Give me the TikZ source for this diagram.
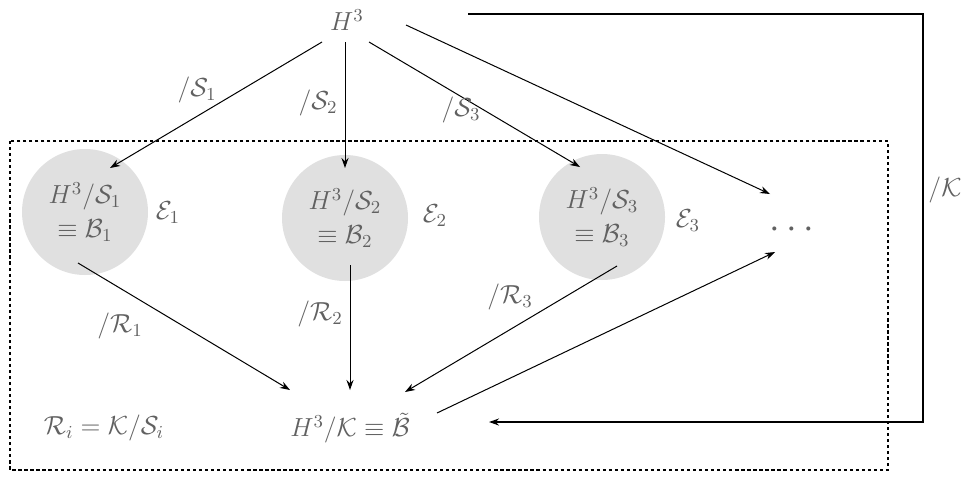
\RequirePackage{fix-cm}
\documentclass[tikz,border=0pt]{standalone}
\usepackage{amsmath}
\usepackage{tikz}
\usetikzlibrary{arrows.meta}

\definecolor{labelgray}{gray}{0.38}
\definecolor{ballgray}{gray}{0.88}

\tikzset{
	lbl/.style={text=labelgray, font=\fontsize{13}{15}\selectfont, inner sep=1pt},
	ball/.style={circle, fill=ballgray, minimum size=126*0.0175cm, inner sep=0pt, align=center, text=labelgray, font=\fontsize{13}{15}\selectfont},
	map/.style={-{Stealth[length=5pt,width=3.5pt]}, line width=0.5pt}
}

\begin{document}
\begin{tikzpicture}[x=0.0175cm, y=-0.0175cm]
		\useasboundingbox (0, 0) rectangle (968, 476);

		\draw[dash pattern=on 1.6pt off 1.4pt, line width=0.8pt] (10, 141) rectangle (888, 470);

		\node[lbl] (H) at (347, 20) {$H^3$};

		\node[ball] (B1) at (85, 212) {$H^3/\mathcal{S}_1$\\[2pt]$\equiv\mathcal{B}_1$};
		\node[ball] (B2) at (345, 218) {$H^3/\mathcal{S}_2$\\[2pt]$\equiv\mathcal{B}_2$};
		\node[ball] (B3) at (602, 217) {$H^3/\mathcal{S}_3$\\[2pt]$\equiv\mathcal{B}_3$};

		\node[lbl] (E1) at (168, 213) {$\mathcal{E}_1$};
		\node[lbl] (E2) at (435, 216) {$\mathcal{E}_2$};
		\node[lbl] (E3) at (688, 221) {$\mathcal{E}_3$};

		\node[lbl, font=\fontsize{19}{21}\selectfont] (D) at (795, 230) {$\cdots$};

		\node[lbl] (Q) at (350, 428) {$H^3/\mathcal{K}\equiv\tilde{\mathcal{B}}$};
		\node[lbl] (R) at (104, 428) {$\mathcal{R}_i=\mathcal{K}/\mathcal{S}_i$};

		\coordinate (A1) at (322, 42);
		\coordinate (A2) at (345, 42);
		\coordinate (A3) at (369, 42);
		\coordinate (A4) at (406, 25);

		\coordinate (C1) at (110, 168);
		\coordinate (C2) at (345, 168);
		\coordinate (C3) at (580, 167);
		\coordinate (C4) at (770, 194);

		\coordinate (F1) at (78, 263);
		\coordinate (F2) at (350, 265);
		\coordinate (F3) at (617, 266);
		\coordinate (F4) at (437, 413);

		\coordinate (G1) at (290, 390);
		\coordinate (G2) at (350, 390);
		\coordinate (G3) at (405, 392);
		\coordinate (G4) at (775, 252);

		\draw[map] (A1) -- (C1);
		\draw[map] (A2) -- (C2);
		\draw[map] (A3) -- (C3);
		\draw[map] (A4) -- (C4);

		\draw[map] (F1) -- (G1);
		\draw[map] (F2) -- (G2);
		\draw[map] (F3) -- (G3);
		\draw[map] (F4) -- (G4);

		\node[lbl] (s1) at (197, 90) {$/\mathcal{S}_1$};
		\node[lbl] (s2) at (318, 103) {$/\mathcal{S}_2$};
		\node[lbl] (s3) at (461, 110) {$/\mathcal{S}_3$};

		\node[lbl] (r1) at (120, 326) {$/\mathcal{R}_1$};
		\node[lbl] (r2) at (320, 314) {$/\mathcal{R}_2$};
		\node[lbl] (r3) at (510, 297) {$/\mathcal{R}_3$};

		\coordinate (K0) at (468, 14);
		\coordinate (K1) at (923, 14);
		\coordinate (K2) at (923, 422);
		\coordinate (K3) at (489, 422);
		\draw[map, line width=0.9pt] (K0) -- (K1) -- (K2) -- (K3);
		\node[lbl] (k) at (945, 190) {$/\mathcal{K}$};
	\end{tikzpicture}
\end{document}
